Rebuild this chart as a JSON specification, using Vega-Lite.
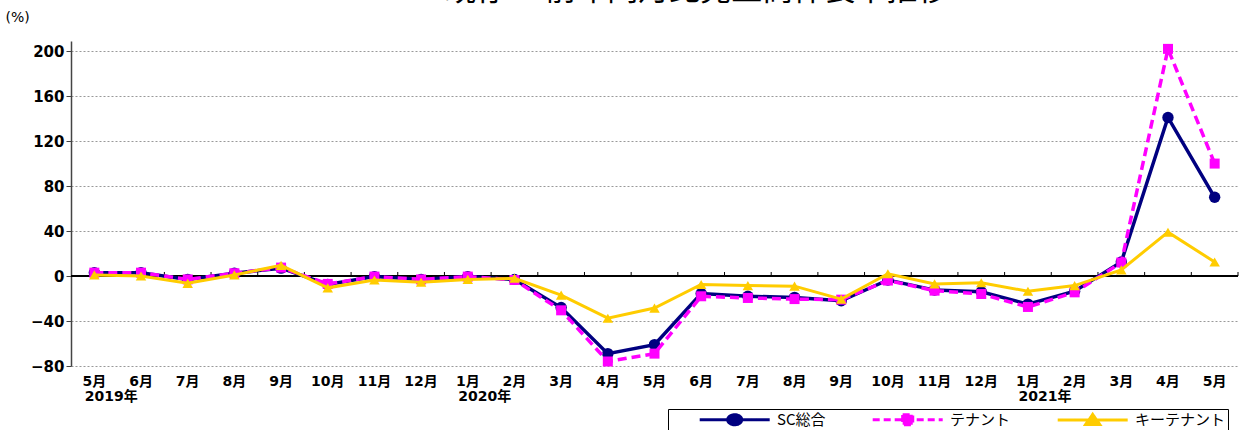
{
  "$schema": "https://vega.github.io/schema/vega-lite/v6.json",
  "autosize": "none",
  "width": 1167,
  "height": 325,
  "padding": {"left": 71, "top": 41, "right": 4, "bottom": 64},
  "background": "white",
  "title": {
    "text": "既存SC前年同月比売上高伸長率推移",
    "font": "Noto Sans CJK JP",
    "fontSize": 31,
    "fontWeight": "normal",
    "color": "#000",
    "anchor": "middle",
    "frame": "group",
    "dx": 42,
    "offset": 3
  },
  "config": {
    "view": {"stroke": null},
    "axis": {"labelColor": "#000", "titleColor": "#000"},
    "legend": {
      "orient": "none",
      "legendX": 597,
      "legendY": 368,
      "direction": "horizontal",
      "strokeColor": "#000",
      "fillColor": "#fff",
      "padding": 2,
      "titleOrient": "left",
      "titleFontSize": 14,
      "titlePadding": 3,
      "symbolSize": 196,
      "symbolStrokeWidth": 3,
      "symbolOpacity": 1,
      "labelFont": "Noto Sans CJK JP",
      "labelFontSize": 15,
      "labelColor": "#000",
      "labelOffset": 87,
      "labelLimit": 300,
      "columnPadding": 20
    }
  },
  "data": {
    "values": [
      {"date": "2019-05", "series": "SC総合", "v": 3},
      {"date": "2019-06", "series": "SC総合", "v": 3},
      {"date": "2019-07", "series": "SC総合", "v": -3},
      {"date": "2019-08", "series": "SC総合", "v": 2.5},
      {"date": "2019-09", "series": "SC総合", "v": 7},
      {"date": "2019-10", "series": "SC総合", "v": -7.5},
      {"date": "2019-11", "series": "SC総合", "v": -0.5},
      {"date": "2019-12", "series": "SC総合", "v": -3},
      {"date": "2020-01", "series": "SC総合", "v": -0.5},
      {"date": "2020-02", "series": "SC総合", "v": -3},
      {"date": "2020-03", "series": "SC総合", "v": -28},
      {"date": "2020-04", "series": "SC総合", "v": -69},
      {"date": "2020-05", "series": "SC総合", "v": -61},
      {"date": "2020-06", "series": "SC総合", "v": -15.5},
      {"date": "2020-07", "series": "SC総合", "v": -18},
      {"date": "2020-08", "series": "SC総合", "v": -19},
      {"date": "2020-09", "series": "SC総合", "v": -22},
      {"date": "2020-10", "series": "SC総合", "v": -3.5},
      {"date": "2020-11", "series": "SC総合", "v": -12.5},
      {"date": "2020-12", "series": "SC総合", "v": -14},
      {"date": "2021-01", "series": "SC総合", "v": -25},
      {"date": "2021-02", "series": "SC総合", "v": -13.5},
      {"date": "2021-03", "series": "SC総合", "v": 12.5},
      {"date": "2021-04", "series": "SC総合", "v": 141},
      {"date": "2021-05", "series": "SC総合", "v": 70},
      {"date": "2019-05", "series": "テナント", "v": 3},
      {"date": "2019-06", "series": "テナント", "v": 3},
      {"date": "2019-07", "series": "テナント", "v": -3},
      {"date": "2019-08", "series": "テナント", "v": 2.5},
      {"date": "2019-09", "series": "テナント", "v": 7.5},
      {"date": "2019-10", "series": "テナント", "v": -7},
      {"date": "2019-11", "series": "テナント", "v": -0.5},
      {"date": "2019-12", "series": "テナント", "v": -3},
      {"date": "2020-01", "series": "テナント", "v": -0.5},
      {"date": "2020-02", "series": "テナント", "v": -3.5},
      {"date": "2020-03", "series": "テナント", "v": -30.5},
      {"date": "2020-04", "series": "テナント", "v": -76},
      {"date": "2020-05", "series": "テナント", "v": -69},
      {"date": "2020-06", "series": "テナント", "v": -18},
      {"date": "2020-07", "series": "テナント", "v": -19.5},
      {"date": "2020-08", "series": "テナント", "v": -20.5},
      {"date": "2020-09", "series": "テナント", "v": -21},
      {"date": "2020-10", "series": "テナント", "v": -4},
      {"date": "2020-11", "series": "テナント", "v": -13},
      {"date": "2020-12", "series": "テナント", "v": -16},
      {"date": "2021-01", "series": "テナント", "v": -27.5},
      {"date": "2021-02", "series": "テナント", "v": -14.5},
      {"date": "2021-03", "series": "テナント", "v": 12},
      {"date": "2021-04", "series": "テナント", "v": 202},
      {"date": "2021-05", "series": "テナント", "v": 100},
      {"date": "2019-05", "series": "キーテナント", "v": 1},
      {"date": "2019-06", "series": "キーテナント", "v": 0},
      {"date": "2019-07", "series": "キーテナント", "v": -6.5},
      {"date": "2019-08", "series": "キーテナント", "v": 1},
      {"date": "2019-09", "series": "キーテナント", "v": 9.5},
      {"date": "2019-10", "series": "キーテナント", "v": -10.5},
      {"date": "2019-11", "series": "キーテナント", "v": -3.5},
      {"date": "2019-12", "series": "キーテナント", "v": -5.5},
      {"date": "2020-01", "series": "キーテナント", "v": -3},
      {"date": "2020-02", "series": "キーテナント", "v": -2},
      {"date": "2020-03", "series": "キーテナント", "v": -17},
      {"date": "2020-04", "series": "キーテナント", "v": -37.5},
      {"date": "2020-05", "series": "キーテナント", "v": -28.5},
      {"date": "2020-06", "series": "キーテナント", "v": -7.5},
      {"date": "2020-07", "series": "キーテナント", "v": -8.5},
      {"date": "2020-08", "series": "キーテナント", "v": -9},
      {"date": "2020-09", "series": "キーテナント", "v": -20.5},
      {"date": "2020-10", "series": "キーテナント", "v": 2},
      {"date": "2020-11", "series": "キーテナント", "v": -7},
      {"date": "2020-12", "series": "キーテナント", "v": -6},
      {"date": "2021-01", "series": "キーテナント", "v": -13.5},
      {"date": "2021-02", "series": "キーテナント", "v": -8.5},
      {"date": "2021-03", "series": "キーテナント", "v": 5.5},
      {"date": "2021-04", "series": "キーテナント", "v": 39},
      {"date": "2021-05", "series": "キーテナント", "v": 12.5}
    ]
  },
  "layer": [
    {
      "transform": [{"filter": "datum.v > 100000"}],
      "mark": {"type": "point", "filled": true, "strokeWidth": 3, "opacity": 1},
      "encoding": {
        "x": {
          "field": "date",
          "type": "ordinal",
          "bandPosition": 0.5,
          "scale": {"type": "band", "paddingInner": 0, "paddingOuter": 0},
          "axis": {
            "orient": "bottom",
            "title": null,
            "domain": false,
            "ticks": false,
            "grid": false,
            "labelAngle": 0,
            "labelPadding": 8,
            "labelExpr": "toNumber(slice(datum.value, 5)) + '月'",
            "labelFont": "DejaVu Sans, Noto Sans CJK JP",
            "labelFontSize": 14,
            "labelFontWeight": "bold",
            "labelColor": "#000"
          }
        },
        "y": {
          "field": "v",
          "type": "quantitative",
          "scale": {"domain": [-80, 209], "nice": false, "zero": false},
          "axis": {
            "values": [-80, -40, 0, 40, 80, 120, 160, 200],
            "title": "(%)",
            "titleAngle": 0,
            "titleX": -66,
            "titleY": -24,
            "titleAlign": "left",
            "titleBaseline": "middle",
            "titleFont": "DejaVu Sans",
            "titleFontSize": 14,
            "titleFontWeight": "normal",
            "domain": true,
            "domainColor": "#444",
            "domainWidth": 1.5,
            "ticks": true,
            "tickColor": "#444",
            "tickSize": 5,
            "grid": true,
            "gridColor": "#999",
            "gridDash": [2, 2],
            "gridWidth": 1,
            "labelPadding": 2,
            "labelFont": "DejaVu Sans",
            "labelFontSize": 15,
            "labelFontWeight": "bold",
            "labelColor": "#000"
          }
        },
        "fill": {
          "field": "series",
          "type": "nominal",
          "title": "\u3000\u3000",
          "scale": {"domain": ["SC総合", "テナント", "キーテナント"], "range": ["#000080", "#FF00FF", "#FFCC00"]},
          "legend": {"labelExpr": "datum.value == 'キーテナント' ? datum.label + '\u3000\u3000\u3000' : datum.label"}
        },
        "stroke": {
          "field": "series",
          "type": "nominal",
          "title": "\u3000\u3000",
          "scale": {"domain": ["SC総合", "テナント", "キーテナント"], "range": ["#000080", "#FF00FF", "#FFCC00"]},
          "legend": {"labelExpr": "datum.value == 'キーテナント' ? datum.label + '\u3000\u3000\u3000' : datum.label"}
        },
        "shape": {
          "field": "series",
          "type": "nominal",
          "title": "\u3000\u3000",
          "scale": {
            "domain": ["SC総合", "テナント", "キーテナント"],
            "range": [
              "M2.6,0H12.6M6.6,0A1,0.72 0 1 0 8.6,0A1,0.72 0 1 0 6.6,0Z",
              "M2.6,0H12.6M6.88,-0.72H8.32V0.72H6.88Z",
              "M2.6,0H12.6M7.6,-0.8L8.6,0.62H6.6Z"
            ]
          },
          "legend": {"labelExpr": "datum.value == 'キーテナント' ? datum.label + '\u3000\u3000\u3000' : datum.label"}
        },
        "strokeDash": {
          "field": "series",
          "type": "nominal",
          "title": "\u3000\u3000",
          "scale": {"domain": ["SC総合", "テナント", "キーテナント"], "range": [[1, 0], [7, 4], [1, 0]]},
          "legend": {"labelExpr": "datum.value == 'キーテナント' ? datum.label + '\u3000\u3000\u3000' : datum.label"}
        }
      }
    },
    {
      "mark": {"type": "rule", "color": "#000", "strokeWidth": 1.5},
      "encoding": {"y": {"datum": 0, "type": "quantitative"}}
    },
    {
      "transform": [{"filter": "datum.series == 'SC総合'"}],
      "mark": {"type": "rule", "color": "#000", "strokeWidth": 1},
      "encoding": {
        "x": {"field": "date", "type": "ordinal", "bandPosition": 1},
        "y": {"datum": 0, "type": "quantitative"},
        "y2": {"datum": 3.6}
      }
    },
    {
      "transform": [{"filter": "datum.series == 'SC総合'"}],
      "mark": {
        "type": "line",
        "color": "#000080",
        "strokeWidth": 3.5,
        "point": {"filled": true, "shape": "circle", "size": 130, "color": "#000080"}
      },
      "encoding": {
        "x": {"field": "date", "type": "ordinal", "bandPosition": 0.5},
        "y": {"field": "v", "type": "quantitative"}
      }
    },
    {
      "transform": [{"filter": "datum.series == 'テナント'"}],
      "mark": {
        "type": "line",
        "color": "#FF00FF",
        "strokeWidth": 3.5,
        "strokeDash": [9, 5],
        "point": {"filled": true, "shape": "square", "size": 100, "color": "#FF00FF"}
      },
      "encoding": {
        "x": {"field": "date", "type": "ordinal", "bandPosition": 0.5},
        "y": {"field": "v", "type": "quantitative"}
      }
    },
    {
      "transform": [{"filter": "datum.series == 'キーテナント'"}],
      "mark": {
        "type": "line",
        "color": "#FFCC00",
        "strokeWidth": 3,
        "point": {"filled": true, "shape": "triangle-up", "size": 110, "color": "#FFCC00"}
      },
      "encoding": {
        "x": {"field": "date", "type": "ordinal", "bandPosition": 0.5},
        "y": {"field": "v", "type": "quantitative"}
      }
    },
    {
      "data": {
        "values": [
          {"date": "2019-05", "year": "2019年"},
          {"date": "2020-01", "year": "2020年"},
          {"date": "2021-01", "year": "2021年"}
        ]
      },
      "mark": {
        "type": "text",
        "dx": 17,
        "dy": 31,
        "align": "center",
        "baseline": "middle",
        "font": "DejaVu Sans, Noto Sans CJK JP",
        "fontSize": 14,
        "fontWeight": "bold",
        "color": "#000"
      },
      "encoding": {
        "x": {"field": "date", "type": "ordinal", "bandPosition": 0.5},
        "y": {"datum": -80, "type": "quantitative"},
        "text": {"field": "year"}
      }
    }
  ]
}
